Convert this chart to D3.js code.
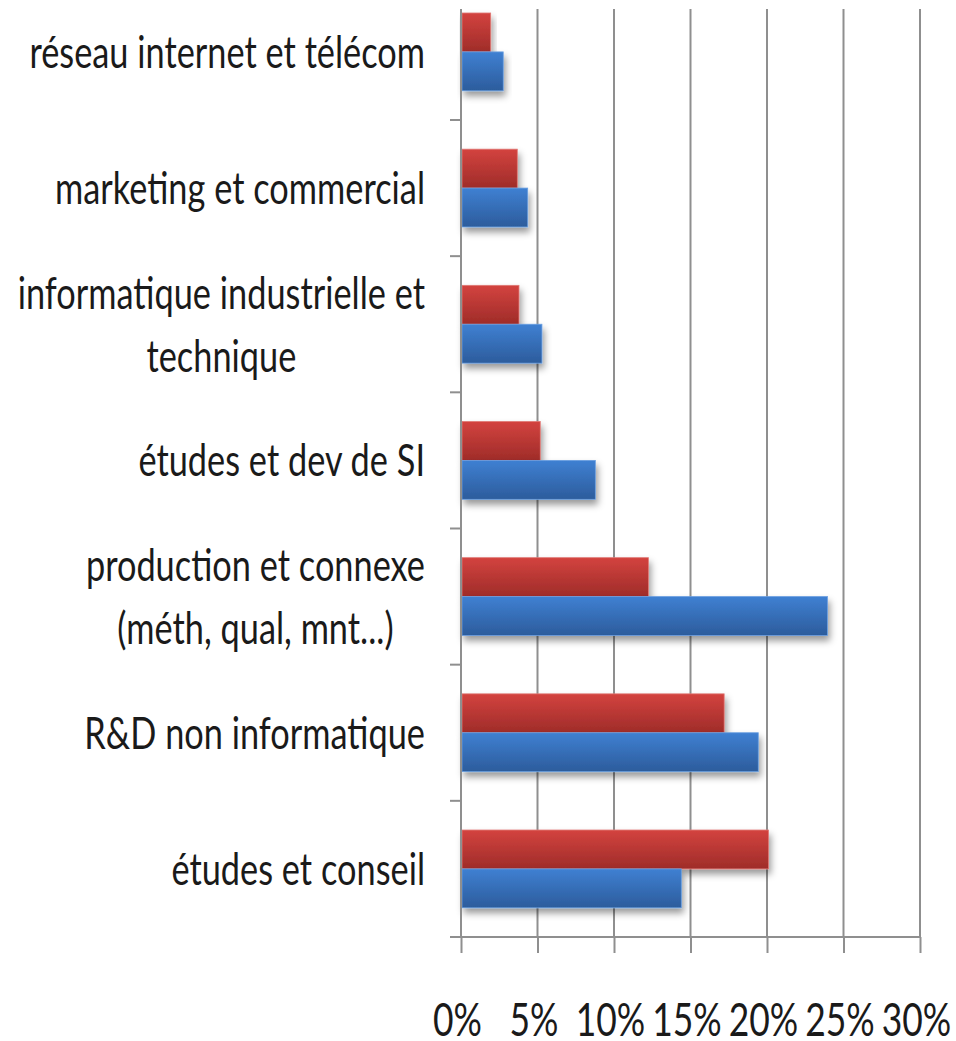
<!DOCTYPE html>
<html>
<head>
<meta charset="utf-8">
<script src="https://cdn.jsdelivr.net/npm/d3@7"></script>
<style>
  html, body { margin: 0; padding: 0; background: #ffffff; }
  svg { display: block; }
  text { font-family: Lato, "Open Sans", sans-serif; fill: #1a1a1a; }
</style>
</head>
<body>
<svg id="chart" width="956" height="1041"></svg>
<script>
// ---- data ----
const categories = [
  ["réseau internet et télécom"],
  ["marketing et commercial"],
  ["informatique industrielle et", "technique"],
  ["études et dev de SI"],
  ["production et connexe", "(méth, qual, mnt...)"],
  ["R&D non informatique"],
  ["études et conseil"]
];
const seriesNames = ["série rouge", "série bleue"];
const redValues  = [0.0194, 0.0368, 0.0379, 0.0518, 0.1225, 0.1720, 0.2010];
const blueValues = [0.0276, 0.0436, 0.0529, 0.0878, 0.2395, 0.1943, 0.1440];
const tickValues = [0, 0.05, 0.10, 0.15, 0.20, 0.25, 0.30];
const tickLabels = ["0%", "5%", "10%", "15%", "20%", "25%", "30%"];

// ---- layout ----
const svg = d3.select("#chart");
const x0 = 461, x1 = 920;
const yBottom = 937, bandH = 136.17, gridTop = 9;
const catKeys = categories.map(c => c.join(" "));

const x = d3.scaleLinear().domain([0, 0.30]).range([x0, x1]);
const y = d3.scaleBand().domain(catKeys)
  .range([yBottom - bandH * categories.length, yBottom]).paddingInner(0).paddingOuter(0);
const ys = d3.scaleBand().domain(seriesNames).range([0, y.bandwidth()])
  .paddingInner(0).paddingOuter(0.75);

const defs = svg.append("defs");
function grad(id, top, bottom) {
  const g = defs.append("linearGradient").attr("id", id)
    .attr("x1", 0).attr("y1", 0).attr("x2", 0).attr("y2", 1);
  g.append("stop").attr("offset", "0%").attr("stop-color", top);
  g.append("stop").attr("offset", "100%").attr("stop-color", bottom);
}
grad("gRed", "#d3433f", "#9f2c29");
grad("gBlue", "#3f80d2", "#2c5c9c");
const f = defs.append("filter").attr("id", "shadow")
  .attr("x", "-10%").attr("y", "-20%").attr("width", "130%").attr("height", "160%");
f.append("feDropShadow").attr("dx", 2).attr("dy", 5).attr("stdDeviation", 3.5)
  .attr("flood-color", "#000").attr("flood-opacity", 0.4);

// gridlines
svg.append("g").selectAll("line").data(tickValues).join("line")
  .attr("x1", d => x(d)).attr("x2", d => x(d))
  .attr("y1", gridTop).attr("y2", yBottom)
  .attr("stroke", "#8f8f8f").attr("stroke-width", 2);

// bars
const rows = categories.map((c, i) => ({ key: catKeys[i], vals: [redValues[i], blueValues[i]] }));
const gRows = svg.append("g").selectAll("g").data(rows).join("g")
  .attr("transform", d => `translate(0,${y(d.key)})`);
gRows.selectAll("rect").data(d => d.vals.map((v, j) => ({ v, s: seriesNames[j], j })))
  .join("rect")
  .attr("x", x(0) + 1)
  .attr("y", d => ys(d.s))
  .attr("width", d => x(d.v) - x(0) - 1)
  .attr("height", ys.bandwidth())
  .attr("fill", d => d.j === 0 ? "url(#gRed)" : "url(#gBlue)")
  .attr("stroke", d => d.j === 0 ? "#e07a76" : "#6a9fe0")
  .attr("stroke-width", 0.8)
  .attr("filter", "url(#shadow)");

// axes lines
svg.append("line").attr("x1", 450).attr("x2", x1).attr("y1", yBottom).attr("y2", yBottom)
  .attr("stroke", "#8f8f8f").attr("stroke-width", 2);
svg.append("line").attr("x1", x0).attr("x2", x0).attr("y1", gridTop).attr("y2", yBottom)
  .attr("stroke", "#8f8f8f").attr("stroke-width", 2);

// x axis
const xAxis = d3.axisBottom(x).tickValues(tickValues)
  .tickFormat((d, i) => tickLabels[i]).tickSize(16).tickSizeOuter(0);
const gx = svg.append("g").attr("transform", `translate(0,${yBottom})`).call(xAxis);
gx.select(".domain").remove();
gx.selectAll(".tick line").attr("stroke", "#8f8f8f").attr("stroke-width", 2);
gx.selectAll(".tick text")
  .attr("y", 0).attr("dy", 0)
  .attr("font-size", 46).attr("fill", "#1a1a1a")
  .attr("font-family", "Lato, sans-serif")
  .attr("text-anchor", "middle")
  .attr("transform", "translate(-4,99) scale(0.77,1)");

// y axis ticks (band boundaries)
const bounds = d3.range(categories.length).map(i => y(catKeys[i]) + y.bandwidth());
svg.append("g").selectAll("line").data(bounds).join("line")
  .attr("x1", 450).attr("x2", x0).attr("y1", d => d).attr("y2", d => d)
  .attr("stroke", "#8f8f8f").attr("stroke-width", 2);

// category labels: lines centered on each other, the block right-aligned at 425
const sx = 0.763, lineH = 63, rightEdge = 425;
const gl = svg.append("g");
rows.forEach((r, i) => {
  const lines = categories[i];
  const cy = y(r.key) + y.bandwidth() / 2;
  const t = gl.append("text")
    .attr("transform", `translate(${rightEdge},0) scale(${sx},1)`)
    .attr("font-size", 45)
    .attr("text-anchor", "middle");
  const spans = lines.map((ln, k) => {
    const off = (k - (lines.length - 1) / 2) * lineH;
    return t.append("tspan").attr("x", 0).attr("y", cy + off + 16).text(ln);
  });
  const maxW = d3.max(spans, s => s.node().getComputedTextLength());
  spans.forEach(s => s.attr("x", -maxW / 2));
});
</script>
</body>
</html>
